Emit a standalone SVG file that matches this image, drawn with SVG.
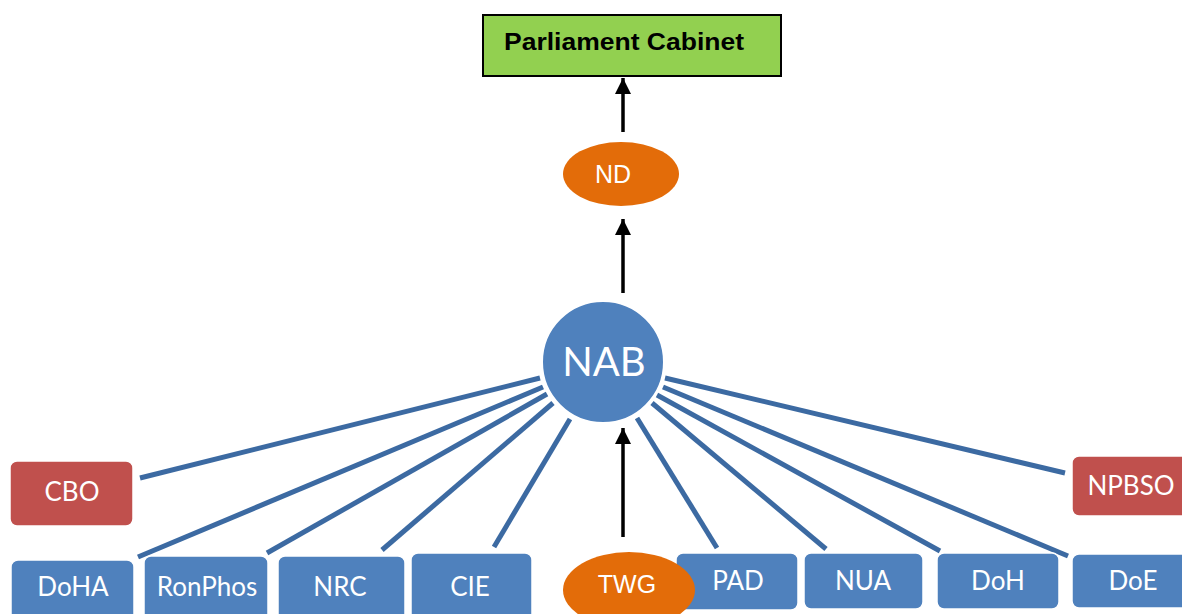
<svg xmlns="http://www.w3.org/2000/svg" width="1182" height="614" viewBox="0 0 1182 614">
<defs>
<style>
.conn{stroke:#3c6aa2;stroke-width:5;stroke-linecap:butt;fill:none}
.arr{stroke:#000;stroke-width:3.5;fill:none}
.blue{fill:#4f81bd;stroke:#fff;stroke-width:1.5}
.red{fill:#c0504d;stroke:#fff;stroke-width:1.5}
.orange{fill:#e36c09}
.lbl{font-family:Lato,"Open Sans",sans-serif;font-size:26px;fill:#fff;text-anchor:middle}
.big{font-size:40px}
.albl{font-family:"Liberation Sans",Arial,sans-serif;font-size:25px;fill:#fff;text-anchor:middle}
</style>
<marker id="ah" viewBox="0 0 10 10" refX="10" refY="5" markerWidth="4.6" markerHeight="5.4" markerUnits="strokeWidth" orient="auto">
<path d="M0,0 L10,5 L0,10 z" fill="#000"/>
</marker>
</defs>
<rect width="1182" height="614" fill="#fff"/>
<g id="connectors">
<line class="conn" x1="540" y1="378" x2="140" y2="478"/>
<line class="conn" x1="543" y1="387" x2="138" y2="557"/>
<line class="conn" x1="547" y1="394" x2="267" y2="553"/>
<line class="conn" x1="553" y1="403" x2="382" y2="550"/>
<line class="conn" x1="570" y1="419" x2="494" y2="547"/>
<line class="conn" x1="637" y1="418" x2="717" y2="548"/>
<line class="conn" x1="652" y1="403" x2="826" y2="549"/>
<line class="conn" x1="657" y1="395" x2="940" y2="551"/>
<line class="conn" x1="663" y1="387" x2="1068" y2="556"/>
<line class="conn" x1="665" y1="378" x2="1065" y2="473"/>
<line class="arr" x1="623" y1="132" x2="623" y2="78" marker-end="url(#ah)"/>
<line class="arr" x1="623" y1="293" x2="623" y2="219" marker-end="url(#ah)"/>
<line class="arr" x1="623" y1="537" x2="623" y2="428" marker-end="url(#ah)"/>
</g>
<g id="cabinet">
<rect x="483" y="15" width="298" height="61" fill="#92d050" stroke="#000" stroke-width="2"/>
<text x="624" y="50" font-family="'Liberation Sans',Arial,sans-serif" font-weight="bold" font-size="23" textLength="240" lengthAdjust="spacingAndGlyphs" text-anchor="middle" fill="#000">Parliament Cabinet</text>
</g>
<g id="nd">
<ellipse class="orange" cx="621" cy="174" rx="58" ry="32"/>
<text class="albl" x="613" y="183">ND</text>
</g>
<g id="nab">
<circle cx="603" cy="362" r="61" fill="#4f81bd" stroke="#fff" stroke-width="2"/>
<text class="lbl big" x="604" y="376">NAB</text>
</g>
<g id="cbo">
<rect class="red" x="10" y="461" width="123" height="65" rx="7"/>
<text class="lbl" x="72" y="501">CBO</text>
</g>
<g id="npbso">
<rect class="red" x="1072" y="456" width="122" height="60" rx="7"/>
<text class="lbl" x="1131" y="495">NPBSO</text>
</g>
<g id="doha">
<rect class="blue" x="11" y="560" width="123" height="62" rx="7"/>
<text class="lbl" x="73" y="596">DoHA</text>
</g>
<g id="ronphos">
<rect class="blue" x="144" y="556" width="124" height="66" rx="7"/>
<text class="lbl" x="207" y="596">RonPhos</text>
</g>
<g id="nrc">
<rect class="blue" x="278" y="556" width="127" height="66" rx="7"/>
<text class="lbl" x="340" y="596">NRC</text>
</g>
<g id="cie">
<rect class="blue" x="411" y="553" width="121" height="69" rx="7"/>
<text class="lbl" x="470" y="596">CIE</text>
</g>
<g id="pad">
<rect class="blue" x="676" y="553" width="122" height="57" rx="7"/>
<text class="lbl" x="738" y="590">PAD</text>
</g>
<g id="twg">
<ellipse class="orange" cx="629" cy="590" rx="66" ry="38"/>
<text class="albl" x="627" y="593">TWG</text>
</g>
<g id="nua">
<rect class="blue" x="804" y="553" width="119" height="56" rx="7"/>
<text class="lbl" x="863" y="590">NUA</text>
</g>
<g id="doh">
<rect class="blue" x="937" y="553" width="122" height="56" rx="7"/>
<text class="lbl" x="998" y="590">DoH</text>
</g>
<g id="doe">
<rect class="blue" x="1072" y="554" width="122" height="54" rx="7"/>
<text class="lbl" x="1133" y="590">DoE</text>
</g>
</svg>
